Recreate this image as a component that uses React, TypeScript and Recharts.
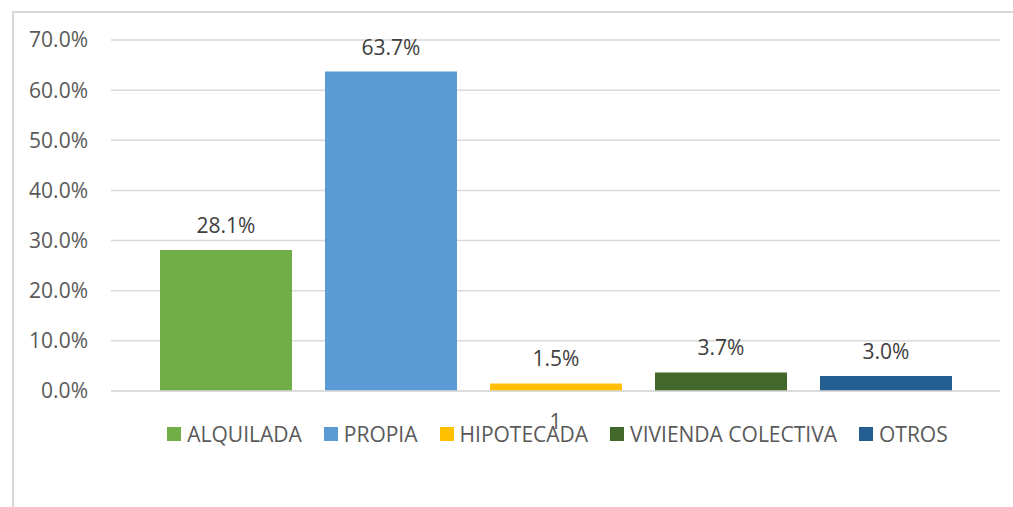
import { BarChart, Bar, XAxis, YAxis, CartesianGrid, LabelList } from "recharts";

// -------------------------
// DATA
// -------------------------
const categories = ["1"];
const seriesNames = ["ALQUILADA", "PROPIA", "HIPOTECADA", "VIVIENDA COLECTIVA", "OTROS"];
const seriesValues = [28.1, 63.7, 1.5, 3.7, 3.0];
const seriesColors = ["#70AD47", "#5B9BD5", "#FFC000", "#43682B", "#255E91"];
const yTicks = [0, 10, 20, 30, 40, 50, 60, 70];

const FONT = "'Open Sans', 'Noto Sans', sans-serif";
const FS = 21;

export default function App() {
  const data = categories.map((name) => {
    const row: any = { name };
    seriesNames.forEach((s, i) => {
      row[s] = seriesValues[i];
    });
    return row;
  });

  return (
    <div
      style={{
        position: "absolute",
        left: 0,
        top: 0,
        width: 1013,
        height: 507,
        background: "#fff",
        overflow: "hidden",
        fontFamily: FONT,
      }}
    >
      {/* chart frame */}
      <div
        style={{
          position: "absolute",
          left: 12,
          top: 11,
          width: 1020,
          height: 520,
          border: "2px solid #D9D9D9",
          boxSizing: "border-box",
        }}
      />

      <div style={{ position: "absolute", left: 0, top: 0 }}>
        <BarChart
          width={1013}
          height={507}
          data={data}
          margin={{ top: 40, right: 13, left: 0, bottom: 76 }}
          barCategoryGap={49}
          barGap={33}
        >
          <CartesianGrid vertical={false} stroke="#D9D9D9" strokeWidth={1.5} />
          <XAxis
            dataKey="name"
            height={40}
            tickLine={false}
            axisLine={{ stroke: "#D9D9D9", strokeWidth: 1.5 }}
            tickMargin={17}
            tick={{ fontSize: FS, fill: "#595959", fontFamily: FONT }}
          />
          <YAxis
            width={111}
            domain={[0, 70]}
            ticks={yTicks}
            interval={0}
            axisLine={false}
            tickLine={false}
            tickSize={0}
            tickMargin={23}
            tickFormatter={(v: number) => `${v.toFixed(1)}%`}
            tick={{ fontSize: FS, fill: "#595959", fontFamily: FONT }}
          />
          {seriesNames.map((s, i) => (
            <Bar key={s} dataKey={s} fill={seriesColors[i]} isAnimationActive={false}>
              <LabelList
                dataKey={s}
                position="top"
                offset={17}
                formatter={(v: any) => `${Number(v).toFixed(1)}%`}
                style={{ fill: "#404040", fontSize: FS, fontFamily: FONT }}
              />
            </Bar>
          ))}
        </BarChart>
      </div>

      {/* LEGEND */}
      <div
        style={{
          position: "absolute",
          left: 111,
          width: 893,
          top: 420,
          height: 28,
          display: "flex",
          justifyContent: "center",
          alignItems: "center",
          gap: 22,
          fontSize: FS,
          color: "#595959",
        }}
      >
        {seriesNames.map((s, i) => (
          <div key={s} style={{ display: "flex", alignItems: "center" }}>
            <span
              style={{
                display: "inline-block",
                width: 14,
                height: 14,
                background: seriesColors[i],
                marginRight: 6,
              }}
            />
            <span>{s}</span>
          </div>
        ))}
      </div>
    </div>
  );
}
